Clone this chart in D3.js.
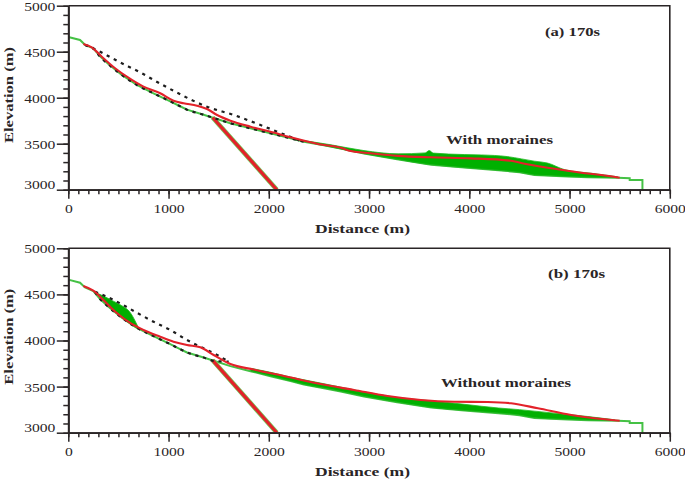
<!DOCTYPE html>
<html><head><meta charset="utf-8">
<script src="https://cdn.jsdelivr.net/npm/d3@7"></script>
<style>
html,body{margin:0;padding:0;background:#fff;}
svg{display:block;}
</style></head>
<body>
<svg id="chart" width="685" height="480"></svg>
<script>
// ---------- data ----------
const xTickValues = [0, 1000, 2000, 3000, 4000, 5000, 6000];
const yTickValues = [3000, 3500, 4000, 4500, 5000];
const panelLabels = ["(a) 170s", "(b) 170s"];
const caseLabels = ["With moraines", "Without moraines"];

// terrain (shared green profile line), [distance, elevation]
const terrain = [[0,4660],[117,4627],[167,4575],[250,4537],[317,4450],[400,4365],[534,4247],[684,4138],[850,4048],[1017,3960],[1100,3915],[1184,3870],[1350,3815],[1450,3780],[1617,3722],[1817,3667],[2017,3613],[2217,3560],[2350,3522],[2550,3482],[2717,3447],[2950,3392],[3280,3330],[3620,3272],[3950,3240],[4290,3212],[4500,3190],[4650,3160],[4980,3143],[5180,3136],[5480,3130],[5600,3125],[5600,3105],[5727,3105],[5727,3000]];

// sliding surface (thick red)
const slide = [[1440,3785],[2080,3000]];

// panel (a): red surface, dashed boundaries, deposit [x, top, bottom]
const redA = [[150,4584],[234,4548],[334,4446],[467,4320],[584,4228],[750,4120],[917,4048],[1050,3967],[1150,3939],[1284,3913],[1384,3877],[1484,3812],[1617,3750],[1817,3685],[2017,3630],[2217,3570],[2500,3495],[2717,3457],[2817,3420],[3017,3396],[3284,3368],[3617,3352],[4017,3341],[4417,3315],[4517,3290],[4817,3233],[5117,3185],[5317,3160],[5500,3130]];
const upperA = [[167,4573],[317,4500],[484,4402],[734,4265],[900,4163],[1067,4065],[1384,3902],[1650,3812],[1917,3703],[2150,3602],[2350,3515]];
const lowerA = [[167,4573],[250,4537],[317,4446],[400,4363],[534,4247],[684,4138],[850,4048],[1017,3960],[1100,3915],[1184,3870],[1350,3815],[1450,3780],[1617,3722],[1817,3667],[2017,3613],[2217,3558],[2350,3520]];
const depositA = [[2250,3550,3548],[2620,3488,3465],[2950,3425,3392],[3290,3390,3329],[3560,3400,3280],[3600,3425,3275],[3640,3398,3270],[3950,3382,3240],[4120,3378,3226],[4380,3360,3203],[4520,3335,3186],[4650,3310,3160],[4780,3290,3153],[4950,3218,3144],[5220,3178,3136],[5480,3140,3130]];

// panel (b)
const redB = [[150,4591],[250,4540],[350,4439],[484,4298],[617,4190],[750,4114],[917,4041],[1050,3987],[1184,3951],[1317,3926],[1450,3843],[1617,3745],[1850,3685],[2184,3607],[2517,3528],[2850,3463],[3184,3398],[3517,3355],[3850,3336],[4184,3333],[4417,3319],[4684,3265],[5017,3192],[5250,3156],[5500,3130]];
const upperB = [[267,4529],[367,4483],[517,4403],[684,4301],[850,4204],[1017,4114],[1184,4005],[1350,3915],[1484,3843],[1600,3770]];
const lowerB = [[267,4525],[317,4450],[400,4365],[534,4247],[684,4138],[850,4048],[1017,3960],[1100,3915],[1184,3870],[1350,3815],[1450,3780],[1600,3770]];
const wedgeB = [[290,4512,4500],[360,4478,4420],[440,4432,4340],[530,4380,4255],[617,4305,4178],[690,4160,4132]];
const depositB = [[1820,3698,3668],[2017,3655,3615],[2217,3603,3562],[2350,3574,3524],[2550,3531,3484],[2717,3494,3449],[2950,3443,3394],[3280,3382,3332],[3620,3346,3274],[3950,3308,3242],[4290,3268,3214],[4500,3250,3192],[4650,3234,3162],[4980,3198,3145],[5180,3176,3137],[5450,3140,3132]];

// ---------- layout ----------
const svg = d3.select("#chart");
const X0 = 68.3, X1 = 669.8;
const panels = [
  {top:5.7, bottom:189.7, red:redA, upper:upperA, lower:lowerA, deposits:[depositA],
   label:panelLabels[0], labelX:545, labelY:35.5, labelW:55,
   caseLabel:caseLabels[0], caseX:446, caseY:143.8, caseW:107,
   xTitleY:232.5, yTitleC:95},
  {top:248.3, bottom:432.7, red:redB, upper:upperB, lower:lowerB, deposits:[wedgeB, depositB],
   label:panelLabels[1], labelX:548, labelY:277.5, labelW:57,
   caseLabel:caseLabels[1], caseX:441, caseY:387.3, caseW:130,
   xTitleY:476, yTitleC:336.7}
];
const ink = "#2a2526";
const serif = "'Liberation Serif','Times New Roman',serif";
const x = d3.scaleLinear().domain([0,6000]).range([X0, X1]);
const fmt = d3.format("d");

panels.forEach((p, i) => {
  const y = d3.scaleLinear().domain([3000,5000]).range([p.bottom, p.top]);
  const g = svg.append("g");
  const clipId = "clip" + i;
  svg.append("clipPath").attr("id", clipId).append("rect")
    .attr("x", X0).attr("y", p.top).attr("width", X1 - X0).attr("height", p.bottom - p.top + 1);
  const plot = g.append("g").attr("clip-path", `url(#${clipId})`);

  const line = d3.line().x(d => x(d[0])).y(d => y(d[1]));
  const smooth = d3.line().x(d => x(d[0])).y(d => y(d[1])).curve(d3.curveMonotoneX);

  // terrain
  plot.append("path").datum(terrain).attr("d", line)
    .attr("fill", "none").attr("stroke", "#45c145").attr("stroke-width", 2);
  // deposits
  p.deposits.forEach(dep => {
    plot.append("path").datum(dep)
      .attr("d", d3.area().x(d => x(d[0])).y0(d => y(d[2])).y1(d => y(d[1])).curve(d3.curveMonotoneX))
      .attr("fill", "#00b000").attr("stroke", "#22b822").attr("stroke-width", 0.8);
  });
  // slide surface (green edge + red)
  plot.append("path").datum(slide).attr("d", line)
    .attr("fill", "none").attr("stroke", "#6ccf5c").attr("stroke-width", 4.6);
  plot.append("path").datum(slide).attr("d", line)
    .attr("fill", "none").attr("stroke", "#e3222a").attr("stroke-width", 3.2);
  // dashed boundaries
  [p.upper, p.lower].forEach(arr => {
    plot.append("path").datum(arr).attr("d", smooth)
      .attr("fill", "none").attr("stroke", "#1d1d1d").attr("stroke-width", 2.2)
      .attr("stroke-dasharray", "3.2,4.8");
  });
  // red surface
  plot.append("path").datum(p.red).attr("d", smooth)
    .attr("fill", "none").attr("stroke", "#e3222a").attr("stroke-width", 2.1);

  // frame
  g.append("path").attr("d", `M${X0},${p.top}H${X1}V${p.bottom}`)
    .attr("fill", "none").attr("stroke", ink).attr("stroke-width", 1.6);

  // x axis
  const xMinor = g.append("g").attr("transform", `translate(0,${p.bottom})`)
    .call(d3.axisBottom(x).tickValues(d3.range(0, 6001, 100)).tickSize(4.5).tickFormat("").tickSizeOuter(0));
  const xMajor = g.append("g").attr("transform", `translate(0,${p.bottom})`)
    .call(d3.axisBottom(x).tickValues(xTickValues).tickFormat(fmt).tickSize(9).tickSizeOuter(0).tickPadding(0));
  [xMinor, xMajor].forEach(a => {
    a.selectAll("line").attr("stroke", ink).attr("stroke-width", 1.5);
    a.select(".domain").attr("stroke", ink).attr("stroke-width", 1.8);
  });
  xMajor.selectAll("text")
    .attr("y", 0).attr("dy", null)
    .attr("transform", "translate(0,23) scale(1.2,1)")
    .attr("fill", ink).attr("font-family", serif).attr("font-size", 13);

  // y axis
  const yMinor = g.append("g").attr("transform", `translate(${X0},0)`)
    .call(d3.axisLeft(y).tickValues(d3.range(3000, 5001, 100)).tickSize(5).tickFormat("").tickSizeOuter(0));
  const yMajor = g.append("g").attr("transform", `translate(${X0},0)`)
    .call(d3.axisLeft(y).tickValues(yTickValues).tickFormat(fmt).tickSize(11.5).tickSizeOuter(0).tickPadding(0));
  [yMinor, yMajor].forEach(a => {
    a.selectAll("line").attr("stroke", ink).attr("stroke-width", 1.5);
    a.select(".domain").attr("stroke", ink).attr("stroke-width", 1.8);
  });
  yMajor.selectAll("text")
    .attr("x", 0).attr("dy", null).attr("y", 0)
    .attr("transform", d => `translate(-13,${d === 3000 ? -1 : 4.4}) scale(1.2,1)`)
    .attr("fill", ink).attr("font-family", serif).attr("font-size", 13);

  // texts
  const bold = (sel) => sel.attr("font-family", serif).attr("font-weight", "bold")
    .attr("font-size", 13.2).attr("fill", ink).attr("lengthAdjust", "spacingAndGlyphs");
  bold(g.append("text").attr("x", p.labelX).attr("y", p.labelY).attr("textLength", p.labelW).text(p.label));
  bold(g.append("text").attr("x", p.caseX).attr("y", p.caseY).attr("textLength", p.caseW).text(p.caseLabel));
  bold(g.append("text").attr("x", 315).attr("y", p.xTitleY).attr("textLength", 95).text("Distance (m)"));
  bold(g.append("text").attr("transform", `translate(12.8,${p.yTitleC + 48}) rotate(-90)`)
    .attr("x", 0).attr("y", 0).attr("textLength", 96).text("Elevation (m)"));
});
</script>
</body></html>
